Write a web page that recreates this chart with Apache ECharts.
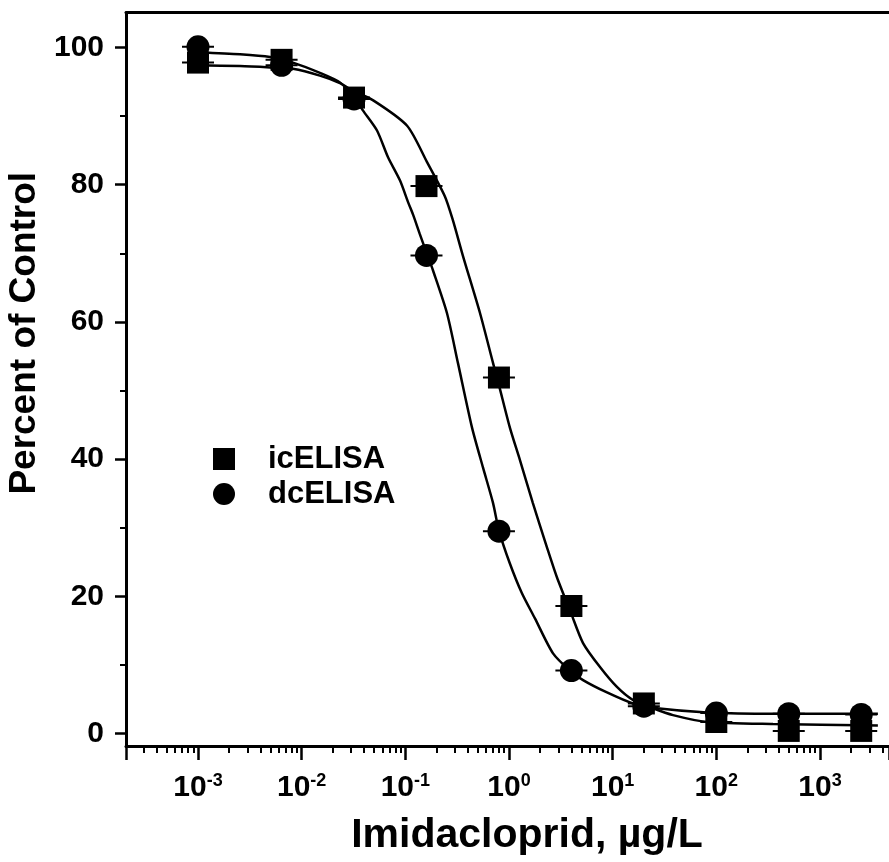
<!DOCTYPE html>
<html><head><meta charset="utf-8">
<script src="https://cdn.jsdelivr.net/npm/echarts@6/dist/echarts.min.js"></script>
<style>html,body{margin:0;padding:0;background:#fff}#c{width:889px;height:862px}</style>
</head><body><div id="c"></div>
<script>
// ---- data ----
const concentrations = [0.001, 0.0064, 0.032, 0.16, 0.8, 4, 20, 100, 500, 2500];
const icELISA = [97.8, 98.2, 92.7, 79.8, 51.9, 18.6, 4.4, 1.7, 0.4, 0.4];
const dcELISA = [100.1, 97.4, 92.5, 69.7, 29.5, 9.2, 4.0, 3.0, 2.9, 2.8];

// fitted curves
const icFitX = [0.001, 0.00254, 0.00495, 0.00824, 0.0150, 0.0234, 0.0320, 0.0490, 0.104, 0.162, 0.241, 0.288, 0.360, 0.525, 0.702, 0.800, 1.02, 1.28, 1.70, 2.32, 2.90, 3.96, 5.18, 7.55, 11.0, 15.7, 24.5, 38.2, 81.3, 352, 3620];
const icFitY = [97.4, 97.3, 97.1, 96.9, 95.9, 94.8, 93.6, 92.3, 88.6, 83.3, 78.3, 74.8, 69.6, 61.3, 54.0, 50.8, 44.6, 39.8, 33.6, 27.2, 22.8, 17.6, 13.2, 9.7, 6.8, 4.9, 3.7, 2.7, 1.7, 1.4, 1.2];
const dcFitX = [0.001, 0.00254, 0.00495, 0.00824, 0.0150, 0.0234, 0.0320, 0.0391, 0.0533, 0.0681, 0.0889, 0.106, 0.119, 0.138, 0.162, 0.185, 0.252, 0.322, 0.440, 0.561, 0.702, 0.800, 1.02, 1.33, 1.78, 2.66, 3.87, 5.18, 8.81, 15.7, 26.8, 81.3, 352, 3620];
const dcFitY = [99.3, 99.0, 98.6, 97.8, 96.3, 94.9, 92.8, 90.8, 87.9, 84.0, 80.6, 77.5, 75.6, 72.8, 69.9, 67.5, 61.3, 54.0, 44.6, 38.8, 33.6, 29.6, 24.8, 20.5, 16.8, 11.7, 9.2, 7.8, 6.0, 4.4, 3.7, 3.1, 2.9, 2.9];

const xTickExponents = [-3, -2, -1, 0, 1, 2, 3];
const yTicks = [0, 20, 40, 60, 80, 100];
const seriesNames = ['icELISA', 'dcELISA'];
const xTitle = 'Imidacloprid, µg/L';
const yTitle = 'Percent of Control';

// ---- chart ----
const FONT = '"Liberation Sans", Arial, Helvetica, sans-serif';
const pairs = (xs, ys) => xs.map((x, i) => [x, ys[i]]);
const BLACK = '#000';

const chart = echarts.init(document.getElementById('c'), null, { renderer: 'canvas' });

const option = {
  animation: false,
  backgroundColor: '#fff',
  grid: { left: 126, top: 12.5, right: 0, bottom: 116, containLabel: false, outerBoundsMode: 'none' },
  legend: {
    orient: 'vertical', left: 208, top: 437,
    itemWidth: 22, itemHeight: 22, itemGap: 1,
    selectedMode: false,
    data: [{ name: seriesNames[0], icon: 'rect' }, { name: seriesNames[1], icon: 'circle' }],
    itemStyle: { opacity: 1, color: BLACK },
    textStyle: { fontSize: 31, fontWeight: 'bold', color: BLACK, fontFamily: FONT, lineHeight: 34, padding: [0, 0, 0, 28] }
  },
  xAxis: [{
    type: 'log', logBase: 10, min: 0.000202, max: 4634,
    splitLine: { show: false }, minorSplitLine: { show: false },
    axisLine: { show: true, onZero: false, lineStyle: { color: BLACK, width: 3 } },
    axisTick: { show: true, inside: false, length: 14, lineStyle: { color: BLACK, width: 2.5 } },
    minorTick: { show: true, splitNumber: 9, length: 7, lineStyle: { color: BLACK, width: 2 } },
    axisLabel: {
      margin: 26,
      formatter: function (v) {
        const e = Math.log10(v), r = Math.round(e);
        if (Math.abs(e - r) > 1e-6 || xTickExponents.indexOf(r) < 0) return '';
        return '{b|10}{s|' + r + '}';
      },
      rich: {
        b: { fontSize: 30, fontWeight: 'bold', fontFamily: FONT, color: BLACK, lineHeight: 32 },
        s: { fontSize: 18, fontWeight: 'bold', fontFamily: FONT, color: BLACK, lineHeight: 18, verticalAlign: 'top' }
      }
    },
    name: xTitle, nameLocation: 'middle', nameGap: 69,
    nameTextStyle: { fontSize: 41, fontWeight: 'bold', fontFamily: FONT, color: BLACK, padding: [0, 0, 0, 39] }
  }, {
    type: 'value', position: 'top', gridIndex: 0,
    axisLine: { show: true, onZero: false, lineStyle: { color: BLACK, width: 3 } },
    axisTick: { show: false }, axisLabel: { show: false }, splitLine: { show: false }
  }],
  yAxis: {
    type: 'value', min: -1.8, max: 105.1,
    splitLine: { show: false },
    axisLine: { show: true, onZero: false, lineStyle: { color: BLACK, width: 3 } },
    axisTick: { show: true, inside: false, length: 11, customValues: yTicks, lineStyle: { color: BLACK, width: 2.5 } },
    minorTick: { show: true, splitNumber: 2, length: 6, lineStyle: { color: BLACK, width: 2 } },
    axisLabel: { customValues: yTicks, margin: 22, fontSize: 30, fontWeight: 'bold', color: BLACK, fontFamily: FONT },
    name: yTitle, nameLocation: 'middle', nameGap: 78,
    nameTextStyle: { fontSize: 37, fontWeight: 'bold', fontFamily: FONT, color: BLACK, padding: [0, 0, 0, 92] }
  },
  series: [
    { name: 'icFit', type: 'line', data: pairs(icFitX, icFitY), symbol: 'none', smooth: 0.25,
      lineStyle: { color: BLACK, width: 2.5 }, itemStyle: { color: BLACK }, z: 2, silent: true },
    { name: 'dcFit', type: 'line', data: pairs(dcFitX, dcFitY), symbol: 'none', smooth: 0.25,
      lineStyle: { color: BLACK, width: 2.5 }, itemStyle: { color: BLACK }, z: 2, silent: true },
    { name: 'icErr', type: 'scatter', data: pairs(concentrations, icELISA), symbol: 'rect', symbolSize: [32, 2],
      itemStyle: { color: BLACK, opacity: 1 }, z: 3, silent: true },
    { name: 'dcErr', type: 'scatter', data: pairs(concentrations, dcELISA), symbol: 'rect', symbolSize: [32, 2],
      itemStyle: { color: BLACK, opacity: 1 }, z: 3, silent: true },
    { name: seriesNames[0], type: 'scatter', data: pairs(concentrations, icELISA), symbol: 'rect', symbolSize: 22,
      itemStyle: { color: BLACK, opacity: 1 }, z: 4 },
    { name: seriesNames[1], type: 'scatter', data: pairs(concentrations, dcELISA), symbol: 'circle', symbolSize: 23,
      itemStyle: { color: BLACK, opacity: 1 }, z: 4 }
  ]
};
chart.setOption(option);
</script>
</body></html>
